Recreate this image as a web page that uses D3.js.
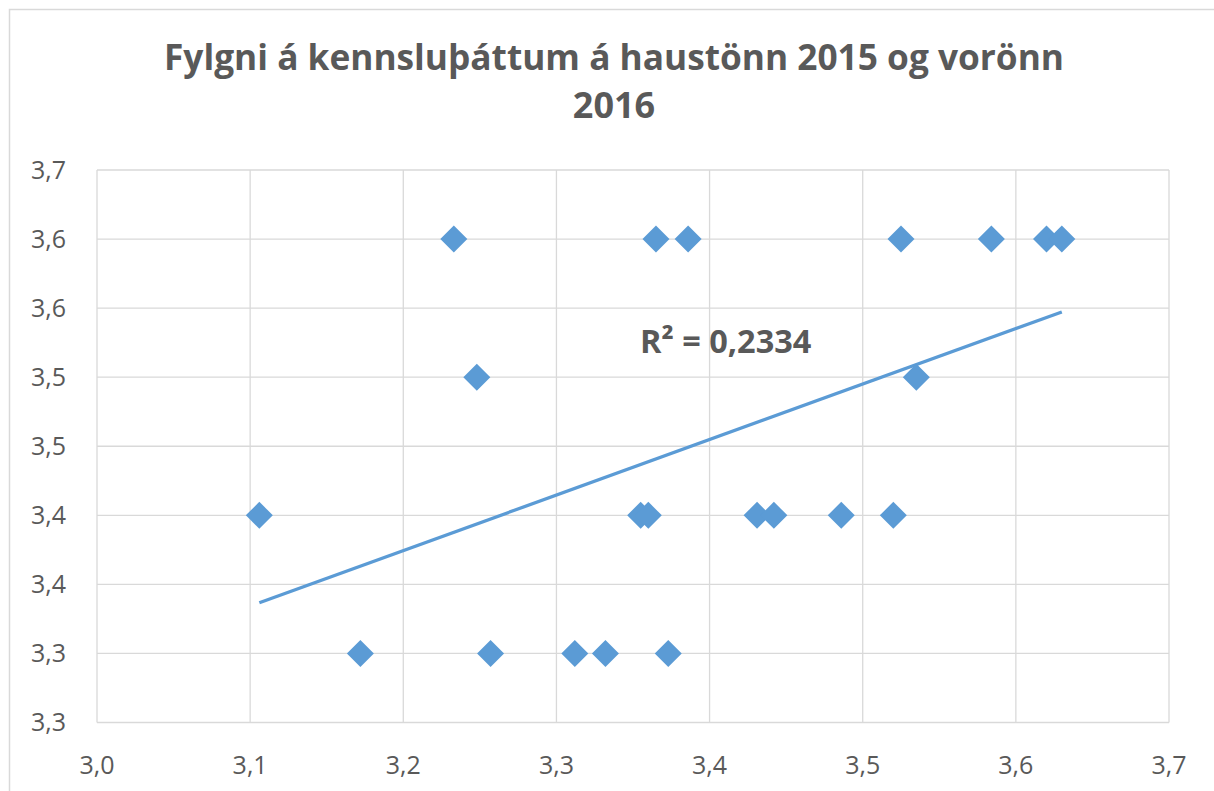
<!DOCTYPE html>
<html>
<head>
<meta charset="utf-8">
<script src="https://cdn.jsdelivr.net/npm/d3@7"></script>
<style>
  body { margin: 0; background: #fff; }
  text { font-family: "Open Sans", sans-serif; fill: #595959; }
</style>
</head>
<body>
<div id="chart"></div>
<script>
// haust 2015 (x) vs vor 2016 (y)
var xValues = [3.106, 3.172, 3.233, 3.248, 3.257, 3.312, 3.332, 3.355, 3.360, 3.365, 3.373,
               3.386, 3.431, 3.442, 3.486, 3.520, 3.525, 3.535, 3.584, 3.620, 3.630];
var yValues = [3.40, 3.30, 3.60, 3.50, 3.30, 3.30, 3.30, 3.40, 3.40, 3.60, 3.30,
               3.60, 3.40, 3.40, 3.40, 3.40, 3.60, 3.50, 3.60, 3.60, 3.60];
var xTicks = [3.0, 3.1, 3.2, 3.3, 3.4, 3.5, 3.6, 3.7];
var xTickLabels = ["3,0", "3,1", "3,2", "3,3", "3,4", "3,5", "3,6", "3,7"];
var yTicks = [3.25, 3.30, 3.35, 3.40, 3.45, 3.50, 3.55, 3.60, 3.65];
var yTickLabels = ["3,3", "3,3", "3,4", "3,4", "3,5", "3,5", "3,6", "3,6", "3,7"];
var titleLines = ["Fylgni á kennsluþáttum á haustönn 2015 og vorönn", "2016"];
var r2Label = "R² = 0,2334";

var width = 1214, height = 791;
var blue = "#5b9bd5", grid = "#d9d9d9";

var svg = d3.select("#chart").append("svg")
  .attr("width", width)
  .attr("height", height);

svg.append("rect")
  .attr("x", 9.5).attr("y", 9.5)
  .attr("width", width).attr("height", height)
  .attr("fill", "#fff")
  .attr("stroke", grid)
  .attr("stroke-width", 1.5);

var x = d3.scaleLinear().domain([3.0, 3.7]).range([97, 1169]);
var y = d3.scaleLinear().domain([3.25, 3.65]).range([722.5, 170]);

// gridlines
svg.append("g").selectAll("line")
  .data(xTicks)
  .enter().append("line")
  .attr("x1", d => x(d)).attr("x2", d => x(d))
  .attr("y1", y.range()[1]).attr("y2", y.range()[0])
  .attr("stroke", grid).attr("stroke-width", 1.3);

svg.append("g").selectAll("line")
  .data(yTicks)
  .enter().append("line")
  .attr("x1", x.range()[0]).attr("x2", x.range()[1])
  .attr("y1", d => y(d)).attr("y2", d => y(d))
  .attr("stroke", grid).attr("stroke-width", 1.3);

// tick labels
svg.append("g").selectAll("text")
  .data(yTicks)
  .enter().append("text")
  .attr("x", 66)
  .attr("y", d => y(d))
  .attr("dy", "0.35em")
  .attr("text-anchor", "end")
  .style("font-size", "25px")
  .text((d, i) => yTickLabels[i]);

svg.append("g").selectAll("text")
  .data(xTicks)
  .enter().append("text")
  .attr("x", d => x(d))
  .attr("y", 774)
  .attr("text-anchor", "middle")
  .style("font-size", "25px")
  .text((d, i) => xTickLabels[i]);

// title
svg.append("g").selectAll("text")
  .data(titleLines)
  .enter().append("text")
  .attr("x", 614)
  .attr("y", (d, i) => 70 + i * 48)
  .attr("text-anchor", "middle")
  .attr("textLength", (d, i) => i === 0 ? 900 : null)
  .attr("lengthAdjust", "spacingAndGlyphs")
  .style("font-size", "36px")
  .style("font-weight", "bold")
  .text(d => d);

// linear trendline
var pts = xValues.map((v, i) => [v, yValues[i]]);
var mx = d3.mean(xValues), my = d3.mean(yValues);
var sxy = d3.sum(pts, p => (p[0] - mx) * (p[1] - my));
var sxx = d3.sum(pts, p => (p[0] - mx) * (p[0] - mx));
var slope = sxy / sxx, icpt = my - slope * mx;
var ext = d3.extent(xValues);

svg.append("path")
  .datum(ext.map(v => [v, icpt + slope * v]))
  .attr("fill", "none")
  .attr("stroke", blue)
  .attr("stroke-width", 3.3)
  .attr("d", d3.line().x(d => x(d[0])).y(d => y(d[1])));

// markers
svg.append("g").selectAll("path")
  .data(pts)
  .enter().append("path")
  .attr("transform", d => "translate(" + x(d[0]) + "," + y(d[1]) + ")")
  .attr("d", "M0,-13.5L13.5,0L0,13.5L-13.5,0Z")
  .attr("fill", blue);

svg.append("text")
  .attr("x", 640)
  .attr("y", 353)
  .style("font-size", "32.5px")
  .style("font-weight", "bold")
  .text(r2Label);
</script>
</body>
</html>
